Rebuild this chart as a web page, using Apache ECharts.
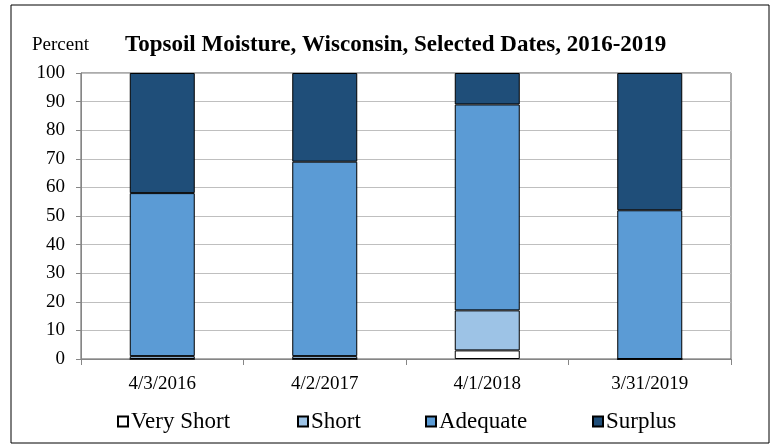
<!DOCTYPE html>
<html>
<head>
<meta charset="utf-8">
<script src="https://cdn.jsdelivr.net/npm/echarts@6/dist/echarts.min.js"></script>
<style>
  html, body { margin: 0; padding: 0; background: #fff; }
  #main { width: 777px; height: 444px; }
</style>
</head>
<body>
<div id="main"></div>
<script>
// values (percent)
let fechas = ['4/3/2016', '4/2/2017', '4/1/2018', '3/31/2019'];
let muyCorto = [0, 0, 3, 0];
let corto = [1, 1, 14, 0];
let adecuado = [57, 68, 72, 52];
let excedente = [42, 31, 11, 48];

let fuente = 'Liberation Serif';

function serie(nombre, datos, color) {
    return {
        name: nombre,
        type: 'bar',
        stack: 'total',
        barCategoryGap: '60%',
        data: datos,
        itemStyle: { color: color, borderColor: '#000', borderWidth: 1 }
    };
}

function leyenda(nombre, x) {
    return {
        data: [nombre],
        left: x,
        top: 410,
        padding: 0,
        itemWidth: 10,
        itemHeight: 10,
        icon: 'rect',
        textStyle: { fontFamily: fuente, fontSize: 23, color: '#000', padding: [0, 0, 0, -2] }
    };
}

let myChart = echarts.init(document.getElementById('main'));
myChart.setOption({
    animation: false,
    title: {
        text: 'Topsoil Moisture, Wisconsin, Selected Dates, 2016-2019',
        left: 120,
        top: 29,
        textStyle: { fontFamily: fuente, fontSize: 23, fontWeight: 'bold', color: '#000' }
    },
    graphic: [
        {
            type: 'rect',
            shape: { x: 11, y: 5, width: 758, height: 438 },
            style: { fill: 'none', stroke: '#000', lineWidth: 1 }
        },
        {
            type: 'text',
            left: 32,
            top: 36,
            style: { text: 'Percent', font: '19px "Liberation Serif"', fill: '#000' }
        }
    ],
    legend: [
        leyenda('Very Short', 117),
        leyenda('Short', 297),
        leyenda('Adequate', 425),
        leyenda('Surplus', 592)
    ],
    grid: {
        left: 81,
        right: 46,
        top: 73,
        bottom: 85,
        show: true,
        borderColor: '#595959',
        borderWidth: 1
    },
    xAxis: {
        type: 'category',
        data: fechas,
        axisLine: { lineStyle: { color: '#868686' } },
        axisTick: { show: true, length: 6, lineStyle: { color: '#868686' } },
        axisLabel: { fontFamily: fuente, fontSize: 19, color: '#000', margin: 16 }
    },
    yAxis: {
        type: 'value',
        min: 0,
        max: 100,
        interval: 10,
        axisLine: { show: true, lineStyle: { color: '#868686' } },
        axisTick: { show: true, length: 5, lineStyle: { color: '#868686' } },
        axisLabel: { fontFamily: fuente, fontSize: 19, color: '#000', margin: 16 },
        splitLine: { lineStyle: { color: '#bfbfbf' } }
    },
    series: [
        serie('Very Short', muyCorto, '#ffffff'),
        serie('Short', corto, '#9dc3e6'),
        serie('Adequate', adecuado, '#5b9bd5'),
        serie('Surplus', excedente, '#1f4e79')
    ]
});
</script>
</body>
</html>
